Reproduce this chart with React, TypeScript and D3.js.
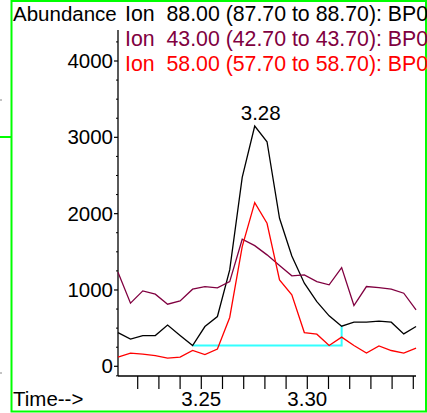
import React from "react";
import * as d3 from "d3";

const times = [
  3.2107, 3.2166, 3.2224, 3.2283, 3.2341, 3.24, 3.2459, 3.2517, 3.2576, 3.2634,
  3.2693, 3.2752, 3.281, 3.2869, 3.2927, 3.2986, 3.3045, 3.3103, 3.3162, 3.322,
  3.3279, 3.3338, 3.3396, 3.3455, 3.3513,
];
const ion88 = [
  442, 356, 403, 403, 540, 405, 272, 521, 652, 1263, 2476, 3148, 2942, 1940, 1446,
  1089, 848, 661, 526, 578, 578, 592, 578, 425, 521,
];
const ion43 = [
  1233, 827, 988, 945, 814, 857, 1010, 1045, 1027, 1110, 1665, 1581, 1460, 1320,
  1185, 1198, 1110, 1067, 1293, 796, 1045, 1031, 1010, 958, 740,
];
const ion58 = [
  120, 173, 160, 141, 107, 120, 207, 154, 227, 640, 1568, 2144, 1874, 1132, 936,
  442, 421, 272, 382, 272, 173, 268, 207, 173, 238,
];
const legendLabels = [
  "Ion  88.00 (87.70 to 88.70): BP0",
  "Ion  43.00 (42.70 to 43.70): BP0",
  "Ion  58.00 (57.70 to 58.70): BP0",
];
const xTicks = [3.22, 3.23, 3.24, 3.25, 3.26, 3.27, 3.28, 3.29, 3.3, 3.31, 3.32, 3.33, 3.34, 3.35];
const xTickLabels = [3.25, 3.3];
const yMajor = [0, 1000, 2000, 3000, 4000];
const yMinor = [-125, 250, 500, 750, 1250, 1500, 1750, 2250, 2500, 2750, 3250, 3500, 3750, 4250];
const peakLabel = "3.28";
const baseStart = 6;
const baseEnd = 18;

const FONT = "'Liberation Sans', Arial, sans-serif";

export default function App() {
  const x = d3.scaleLinear().domain([3.22, 3.35]).range([137.7, 413.3]);
  const y = d3.scaleLinear().domain([0, 4000]).range([366.3, 61]);
  const axisLeft = 118;
  const axisBottom = 376;
  const axisTop = 30;
  const axisRight = 416;

  const line = (vals: number[]) =>
    d3
      .line<number>()
      .x((_, i) => x(times[i]))
      .y((v) => y(v))(vals) || "";

  const colors = ["#000000", "#800040", "#ff0000"];
  const series = [ion88, ion43, ion58];

  const bx0 = x(times[baseStart]);
  const bx1 = x(times[baseEnd]);
  const by0 = y(ion88[baseStart]);
  const by1 = y(ion88[baseEnd]);

  const peakI = ion88.indexOf(d3.max(ion88) as number);

  return (
    <svg
      width={427}
      height={413}
      style={{ position: "absolute", left: 0, top: 0, background: "#fff" }}
      fontFamily={FONT}
    >
      <rect x={0} y={0} width={427} height={413} fill="#fff" />
      {/* frame */}
      <rect x={11.5} y={1} width={414.5} height={410.5} fill="none" stroke="#00ff00" strokeWidth={2} />
      <line x1={0} x2={11} y1={137} y2={137} stroke="#00ff00" strokeWidth={2} />
      <line x1={0} x2={2} y1={100} y2={100} stroke="#888" strokeWidth={1} />
      <line x1={0} x2={2} y1={373} y2={373} stroke="#888" strokeWidth={1} />

      {/* axes */}
      <line x1={axisLeft} x2={axisLeft} y1={axisTop} y2={axisBottom} stroke="#000" strokeWidth={1.3} />
      <line x1={axisLeft} x2={axisRight} y1={axisBottom} y2={axisBottom} stroke="#000" strokeWidth={1.3} />
      {yMajor.map((v) => (
        <g key={"ym" + v}>
          <line x1={axisLeft - 4} x2={axisLeft} y1={y(v)} y2={y(v)} stroke="#000" strokeWidth={1.2} />
          <text x={axisLeft - 5} y={y(v) + 7} textAnchor="end" fontSize={20.5} fill="#000">
            {v}
          </text>
        </g>
      ))}
      {yMinor.map((v) => (
        <line key={"yn" + v} x1={axisLeft - 2} x2={axisLeft} y1={y(v)} y2={y(v)} stroke="#000" strokeWidth={1} />
      ))}
      {xTicks.map((t) => (
        <line key={"xt" + t} x1={x(t)} x2={x(t)} y1={axisBottom} y2={axisBottom + 13} stroke="#000" strokeWidth={1.2} />
      ))}
      {xTickLabels.map((t) => (
        <text key={"xl" + t} x={x(t)} y={406} textAnchor="middle" fontSize={20.5} fill="#000">
          {t.toFixed(2)}
        </text>
      ))}
      <text x={13} y={406} fontSize={20.5} fill="#000">
        Time--&gt;
      </text>
      <text x={13} y={21} fontSize={20.5} fill="#000">
        Abundance
      </text>

      {/* baseline */}
      <polyline
        points={`${bx0},${by0} ${bx1},${by0} ${bx1},${by1}`}
        fill="none"
        stroke="#33ffff"
        strokeWidth={2}
      />

      {/* series */}
      {series.map((s, k) => (
        <path key={"s" + k} d={line(s)} fill="none" stroke={colors[k]} strokeWidth={1.3} strokeLinejoin="miter" />
      ))}

      <text x={x(times[peakI]) + 6} y={y(ion88[peakI]) - 6} textAnchor="middle" fontSize={20.5} fill="#000">
        {peakLabel}
      </text>

      {legendLabels.map((l, k) => (
        <text key={"lg" + k} x={125} y={21 + k * 25} fontSize={21.3} fill={colors[k]} style={{ whiteSpace: "pre" }}>
          {l}
        </text>
      ))}
    </svg>
  );
}
